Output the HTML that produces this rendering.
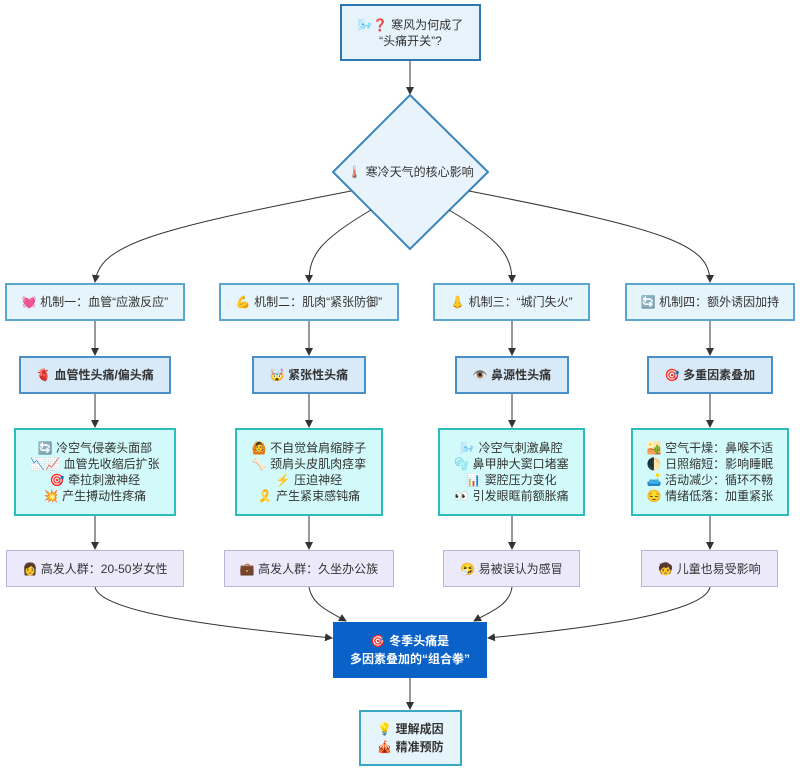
<!DOCTYPE html>
<html><head><meta charset="utf-8"><style>
body{margin:0;width:800px;height:771px;background:#fff;position:relative;font-family:"Liberation Sans","Noto Sans CJK SC",sans-serif;overflow:hidden}
.b{position:absolute;box-sizing:border-box;display:flex;align-items:center;justify-content:center;text-align:center;font-size:12px;color:#333;line-height:16px}
.r1{background:#e6f4fb;border:2px solid #5aa6d0}
.r2{background:#d8e9f7;border:2px solid #4a90c8;font-weight:bold}
.r3{background:#d2fafa;border:2px solid #2bbcbc;line-height:16px}
.r4{background:#ece9fb;border:1px solid #b9b4d8}
svg{position:absolute;left:0;top:0}
</style></head><body>
<svg width="800" height="771">
<defs><marker id="a" markerWidth="8" markerHeight="8" refX="7" refY="4" orient="auto" markerUnits="userSpaceOnUse"><path d="M0,0L8,4L0,8z" fill="#333"/></marker></defs>
<g stroke="#333" stroke-width="1" fill="none">
<line x1="410" y1="60" x2="410" y2="94" marker-end="url(#a)"/>
<polygon points="410,95 488,172 410,249 333,172" fill="#e8f3fb" stroke="#3a85bb" stroke-width="2"/>
<path d="M351,191 C150,230 100,245 95,282" marker-end="url(#a)"/>
<path d="M371,210 C320,240 309,255 309,282" marker-end="url(#a)"/>
<path d="M449,210 C500,240 512,255 512,282" marker-end="url(#a)"/>
<path d="M469,191 C670,230 710,245 710,282" marker-end="url(#a)"/>
<line x1="95" y1="321" x2="95" y2="355" marker-end="url(#a)"/>
<line x1="309" y1="321" x2="309" y2="355" marker-end="url(#a)"/>
<line x1="512" y1="321" x2="512" y2="355" marker-end="url(#a)"/>
<line x1="710" y1="321" x2="710" y2="355" marker-end="url(#a)"/>
<line x1="95" y1="393" x2="95" y2="427" marker-end="url(#a)"/>
<line x1="309" y1="393" x2="309" y2="427" marker-end="url(#a)"/>
<line x1="512" y1="393" x2="512" y2="427" marker-end="url(#a)"/>
<line x1="710" y1="393" x2="710" y2="427" marker-end="url(#a)"/>
<line x1="95" y1="516" x2="95" y2="549" marker-end="url(#a)"/>
<line x1="309" y1="516" x2="309" y2="549" marker-end="url(#a)"/>
<line x1="512" y1="516" x2="512" y2="549" marker-end="url(#a)"/>
<line x1="710" y1="516" x2="710" y2="549" marker-end="url(#a)"/>
<path d="M95,587 C100,615 250,630 332,638" marker-end="url(#a)"/>
<path d="M309,587 C312,605 330,612 346,621" marker-end="url(#a)"/>
<path d="M512,587 C510,605 490,612 474,621" marker-end="url(#a)"/>
<path d="M710,587 C705,615 570,630 488,638" marker-end="url(#a)"/>
<line x1="410" y1="677" x2="410" y2="709" marker-end="url(#a)"/>
</g></svg>
<div class="b" style="left:340px;top:4px;width:141px;height:57px;background:#e6f3fb;border:2px solid #2d77b0">🌬️❓ 寒风为何成了<br>“头痛开关”?</div>
<div class="b" style="left:343px;top:160px;width:135px;height:24px">🌡️ 寒冷天气的核心影响</div>
<div class="b r1" style="left:5px;top:283px;width:180px;height:38px">💓 机制一：血管“应激反应”</div>
<div class="b r1" style="left:219px;top:283px;width:180px;height:38px">💪 机制二：肌肉“紧张防御”</div>
<div class="b r1" style="left:433px;top:283px;width:157px;height:38px">👃 机制三：“城门失火”</div>
<div class="b r1" style="left:625px;top:283px;width:170px;height:38px">🔄 机制四：额外诱因加持</div>
<div class="b r2" style="left:19px;top:356px;width:152px;height:38px">🫀 血管性头痛/偏头痛</div>
<div class="b r2" style="left:252px;top:356px;width:114px;height:38px">🤯 紧张性头痛</div>
<div class="b r2" style="left:455px;top:356px;width:114px;height:38px">👁️ 鼻源性头痛</div>
<div class="b r2" style="left:647px;top:356px;width:126px;height:38px">🎯 多重因素叠加</div>
<div class="b r3" style="left:14px;top:428px;width:162px;height:88px">🔄 冷空气侵袭头面部<br>📉📈 血管先收缩后扩张<br>🎯 牵拉刺激神经<br>💥 产生搏动性疼痛</div>
<div class="b r3" style="left:235px;top:428px;width:148px;height:88px">🙆 不自觉耸肩缩脖子<br>🦴 颈肩头皮肌肉痉挛<br>⚡ 压迫神经<br>🎗️ 产生紧束感钝痛</div>
<div class="b r3" style="left:438px;top:428px;width:147px;height:88px">🌬️ 冷空气刺激鼻腔<br>🫧 鼻甲肿大窦口堵塞<br>📊 窦腔压力变化<br>👀 引发眼眶前额胀痛</div>
<div class="b r3" style="left:631px;top:428px;width:158px;height:88px">🏜️ 空气干燥：鼻喉不适<br>🌓 日照缩短：影响睡眠<br>🛋️ 活动减少：循环不畅<br>😔 情绪低落：加重紧张</div>
<div class="b r4" style="left:6px;top:550px;width:178px;height:37px">👩 高发人群：20-50岁女性</div>
<div class="b r4" style="left:224px;top:550px;width:170px;height:37px">💼 高发人群：久坐办公族</div>
<div class="b r4" style="left:443px;top:550px;width:137px;height:37px">🤧 易被误认为感冒</div>
<div class="b r4" style="left:641px;top:550px;width:137px;height:37px">🧒 儿童也易受影响</div>
<div class="b" style="left:333px;top:622px;width:154px;height:56px;background:#0a62c8;color:#fff;font-weight:bold;line-height:18px">🎯 冬季头痛是<br>多因素叠加的“组合拳”</div>
<div class="b" style="left:359px;top:710px;width:103px;height:56px;background:#e6f4fb;border:2px solid #3aa8c0;font-weight:bold;line-height:18px">💡 理解成因<br>🎪 精准预防</div>
</body></html>
